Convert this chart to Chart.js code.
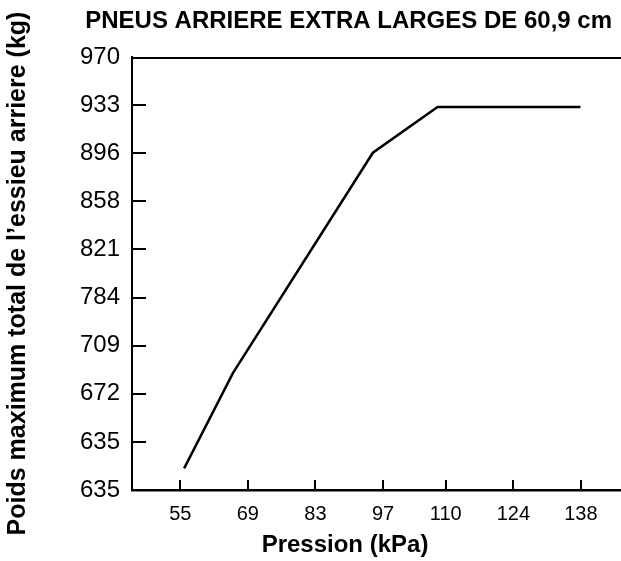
<!DOCTYPE html>
<html>
<head>
<meta charset="utf-8">
<script src="https://cdn.jsdelivr.net/npm/chart.js@4/dist/chart.umd.min.js"></script>
<style>
  html, body { margin: 0; padding: 0; background: #ffffff; }
  #wrap { width: 621px; height: 561px; }
</style>
</head>
<body>
<div id="wrap"><canvas id="c" width="621" height="561"></canvas></div>
<script>
// ---- data ----
const chartTitle = 'PNEUS ARRIERE EXTRA LARGES DE 60,9 cm';
const xAxisTitle = 'Pression (kPa)';
const yAxisTitle = "Poids maximum total de l\u2019essieu arriere (kg)";
const xTickLabels = [55, 69, 83, 97, 110, 124, 138];
const yTickLabels = ['635', '635', '672', '709', '784', '821', '858', '896', '933', '970'];
// pressure (kPa) and load expressed in y-tick units (0 = first 635 tick, 9 = 970 tick)
const pressure = [55.8, 65.9, 94.9, 108.3, 137.9];
const loadLevel = [0.45, 2.43, 7.01, 7.96, 7.96];

const FONT = "'Liberation Sans', Arial, Helvetica, sans-serif";

const framePlugin = {
  id: 'frame',
  afterDraw(chart) {
    const {ctx, chartArea} = chart;
    const xs = chart.scales.x, ys = chart.scales.y;
    ctx.save();
    ctx.strokeStyle = '#000';
    ctx.lineWidth = 2;
    // top border
    ctx.beginPath();
    ctx.moveTo(chartArea.left, chartArea.top + 1);
    ctx.lineTo(chartArea.right, chartArea.top + 1);
    ctx.stroke();
    // inner y ticks
    ys.ticks.forEach((t, i) => {
      if (i === 0 || i === ys.ticks.length - 1) return;
      const y = Math.round(ys.getPixelForValue(t.value));
      ctx.beginPath();
      ctx.moveTo(chartArea.left, y);
      ctx.lineTo(chartArea.left + 14, y);
      ctx.stroke();
    });
    // inner x ticks
    xs.ticks.forEach(t => {
      const x = Math.round(xs.getPixelForValue(t.value));
      ctx.beginPath();
      ctx.moveTo(x, chartArea.bottom);
      ctx.lineTo(x, chartArea.bottom - 10);
      ctx.stroke();
    });
    ctx.fillStyle = '#000';
    ctx.textBaseline = 'middle';
    // chart title
    ctx.font = 'bold 24px ' + FONT;
    ctx.textAlign = 'right';
    ctx.fillText(chartTitle, 612, 21);
    // x axis title
    ctx.font = 'bold 24px ' + FONT;
    ctx.textAlign = 'center';
    ctx.fillText(xAxisTitle, 345, 545);
    ctx.restore();
  }
};

new Chart(document.getElementById('c'), {
  type: 'line',
  data: {
    datasets: [{
      data: pressure.map((p, i) => ({x: p, y: loadLevel[i]})),
      borderColor: '#000',
      borderWidth: 2.5,
      pointRadius: 0,
      tension: 0,
      fill: false
    }]
  },
  options: {
    responsive: false,
    devicePixelRatio: 1,
    animation: false,
    layout: { padding: { top: 57, left: 0, right: 0, bottom: 0 } },
    plugins: { legend: { display: false }, tooltip: { enabled: false }, title: { display: false } },
    scales: {
      x: {
        type: 'linear',
        min: 45,
        max: 146.3,
        afterBuildTicks: s => { s.ticks = xTickLabels.map(v => ({value: v})); },
        afterFit: s => { s.height = 71; },
        grid: { display: false, drawTicks: false },
        border: { display: true, color: '#000', width: 2.5 },
        ticks: { color: '#000', font: { family: FONT, size: 20 }, padding: 12, maxRotation: 0, autoSkip: false,
                 callback: (v, i) => String(xTickLabels[i]) },
        title: { display: false }
      },
      y: {
        type: 'linear',
        min: 0,
        max: yTickLabels.length - 1,
        afterBuildTicks: s => { s.ticks = yTickLabels.map((l, i) => ({value: i})); },
        afterFit: s => { s.width = 132; },
        grid: { display: false, drawTicks: false },
        border: { display: true, color: '#000', width: 2 },
        ticks: { color: '#000', font: { family: FONT, size: 24 }, padding: 12, autoSkip: false,
                 callback: (v, i) => yTickLabels[i] },
        title: { display: true, text: yAxisTitle, color: '#000', font: { family: FONT, size: 25, weight: 'bold' },
                 padding: { top: 3, bottom: 0 } }
      }
    }
  },
  plugins: [framePlugin]
});
</script>
</body>
</html>
